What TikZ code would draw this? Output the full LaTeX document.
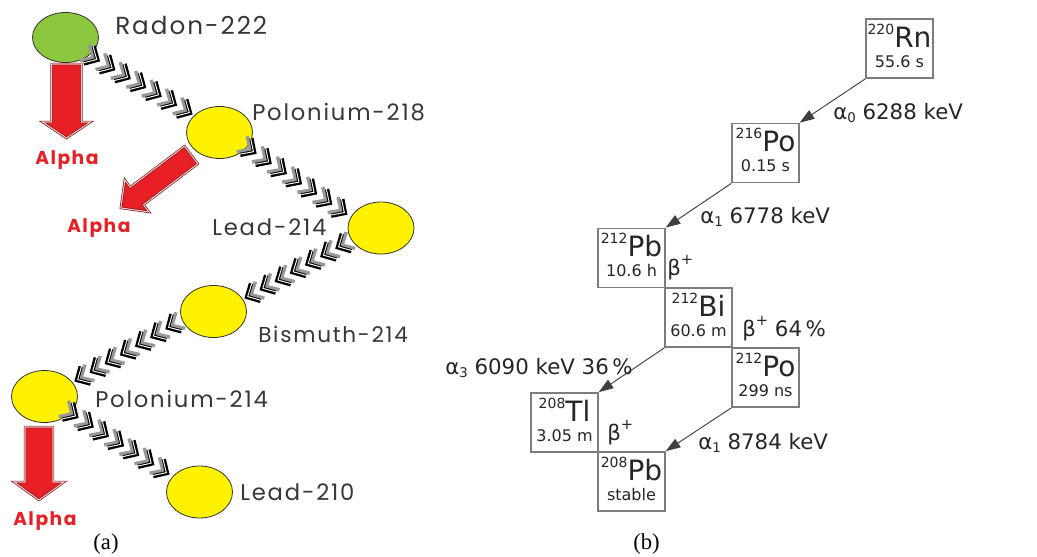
\documentclass[tikz,border=0pt]{standalone}
\usepackage{fontspec}
\setmainfont{DejaVu Sans}
\newfontfamily\geofont[LetterSpace=8]{Poppins}
\newfontfamily\capfont{Liberation Serif}
\usetikzlibrary{shapes.geometric,arrows.meta,calc}

\definecolor{leafgreen}{RGB}{141,198,63}
\definecolor{sunyellow}{RGB}{255,242,0}
\definecolor{alphared}{RGB}{232,32,38}
\definecolor{darkred}{RGB}{125,20,20}
\definecolor{boxgray}{RGB}{125,125,125}
\definecolor{labelgray}{RGB}{55,55,55}

% nuclide symbol with mass number
\newcommand\nuc[2]{\raisebox{9.5pt}{\fontsize{10.5}{11}\selectfont #1}\fontsize{21}{24}\selectfont #2}
\newcommand\lowidx[1]{\raisebox{-2.6pt}{\fontsize{10}{10}\selectfont #1}}
\newcommand\hiplus{\raisebox{8pt}{\fontsize{11}{11}\selectfont +}}

\tikzset{
  chevron/.pic={
    \draw[line width=2.6pt, draw=black!40, line join=miter] (-11pt,7pt) -- (-3.5pt,0pt) -- (-11pt,-7pt);
    \draw[line width=3.2pt, draw=black, line join=miter] (-7.5pt,7.5pt) -- (0pt,0pt) -- (-7.5pt,-7.5pt);
    \draw[line width=0.7pt, draw=white, line join=miter] (-8pt,7.2pt) -- (-0.6pt,0pt) -- (-8pt,-7.2pt);
  }
}
% a row of chevrons running from #1 to #2
\newcommand\chevronchain[2]{%
  \path let \p1=($(#2)-(#1)$), \n1={atan2(\y1,\x1)} in
    foreach \k in {1,...,7} { ($(#1)!\k/7!(#2)$) pic[rotate=\n1] {chevron} };
}
% block arrow: centre, direction angle, length, shaft half width, head half width, head length (pt)
\newcommand\blockarrow[7]{%
  \path[redarrow, shift={(#2)}, rotate=#3]
    ({-#4/2},{#5}) -- ({#4/2-#7},{#5}) -- ({#4/2-#7},{#6}) -- ({#4/2},0pt)
    -- ({#4/2-#7},{-#6}) -- ({#4/2-#7},{-#5}) -- ({-#4/2},{-#5}) -- cycle;
  \coordinate (#1) at (#2);
}

\begin{document}
\begin{tikzpicture}[x=0.75pt,y=-0.75pt,
  isotope/.style={ellipse, draw=black!80, line width=0.6pt, minimum width=49.5pt,
    minimum height=39pt, inner sep=0pt},
  namelabel/.style={anchor=base west, inner sep=0pt, text=labelgray,
    font=\geofont\fontsize{17}{19}\selectfont},
  alphalabel/.style={anchor=base west, inner sep=0pt, text=alphared,
    font=\geofont\bfseries\fontsize{14}{16}\selectfont},
  redarrow/.style={fill=alphared, draw=darkred, line width=0.5pt,
    double=white!75!alphared, double distance=0.8pt, line join=miter},
  decaybox/.style={rectangle, draw=boxgray, line width=1.1pt, minimum width=50.25pt,
    minimum height=44.5pt, inner sep=0pt},
  boxtext/.style={anchor=base, inner sep=0pt, text=black!85},
  halflife/.style={boxtext, font=\fontsize{12}{14}\selectfont},
  decayarrow/.style={draw=black!75, line width=0.7pt, -{Triangle[length=11pt,width=7.5pt]}},
  decaylabel/.style={anchor=base west, inner sep=0pt, text=black!85,
    font=\fontsize{16}{19}\selectfont},
  caption/.style={anchor=base, inner sep=0pt, font=\capfont\fontsize{17}{20}\selectfont}
]
\fill[white] (0,0) rectangle (1037,556);
\useasboundingbox (0,0) rectangle (1037,556);

% ---------------- (a) radon-222 chain ----------------
\node[isotope, fill=leafgreen, minimum height=37.5pt] (rn222) at (65.5,37.5) {};
\node[isotope, fill=sunyellow] (po218) at (219.5,132.5) {};
\node[isotope, fill=sunyellow] (pb214) at (381,228) {};
\node[isotope, fill=sunyellow] (bi214) at (213.5,311.5) {};
\node[isotope, fill=sunyellow] (po214) at (44.5,396.5) {};
\node[isotope, fill=sunyellow] (pb210) at (199.5,492) {};

\node[namelabel, font=\geofont\fontsize{18.5}{20}\selectfont] (lrn222) at (115,35) {Radon-222};
\node[namelabel] (lpo218) at (252,121) {Polonium-218};
\node[namelabel] (lpb214) at (212,235) {Lead-214};
\node[namelabel, font=\geofont\fontsize{16.2}{18}\selectfont] (lbi214) at (258,342) {Bismuth-214};
\node[namelabel] (lpo214) at (95,407) {Polonium-214};
\node[namelabel] (lpb210) at (240,500) {Lead-210};

\node[alphalabel] (al1) at (35,164) {Alpha};
\node[alphalabel] (al2) at (67,232) {Alpha};
\node[alphalabel] (al3) at (13,525) {Alpha};

% alpha emissions
\blockarrow{ar1}{66.5,101}{-90}{55.5pt}{11.25pt}{18pt}{12pt}
\blockarrow{ar2}{156,181.5}{217}{66pt}{8.25pt}{15pt}{15pt}
\blockarrow{ar3}{39,463.5}{-90}{54.75pt}{10.5pt}{18.75pt}{13.5pt}

% beta emissions
\coordinate (c1s) at (82,51);   \coordinate (c1e) at (190,113);
\coordinate (c2s) at (239,142); \coordinate (c2e) at (345,213);
\coordinate (c3s) at (353,239); \coordinate (c3e) at (247,297);
\coordinate (c4s) at (183,319); \coordinate (c4e) at (77,380);
\coordinate (c5s) at (61,407);  \coordinate (c5e) at (167,473);
\chevronchain{c1s}{c1e}
\chevronchain{c2s}{c2e}
\chevronchain{c3s}{c3e}
\chevronchain{c4s}{c4e}
\chevronchain{c5s}{c5e}

\node[caption] (capa) at (106,549) {(a)};

% ---------------- (b) thorium series from radon-220 ----------------
\node[decaybox] (rn) at (899.5,48.5) {};
\node[decaybox] (po216) at (765.5,153) {};
\node[decaybox] (pb212) at (631.5,258) {};
\node[decaybox] (bi212) at (698.5,317.5) {};
\node[decaybox] (po212) at (765.5,377.5) {};
\node[decaybox] (tl208) at (564.5,422.5) {};
\node[decaybox] (pb208) at (631.5,481.5) {};

\node[boxtext] (rnA) at ($(rn.north)+(0,29)$) {\nuc{220}{Rn}};
\node[halflife] (rnT) at ($(rn.north)+(0,49)$) {55.6 s};
\node[boxtext] (po216A) at ($(po216.north)+(0,29)$) {\nuc{216}{Po}};
\node[halflife] (po216T) at ($(po216.north)+(0,49)$) {0.15 s};
\node[boxtext] (pb212A) at ($(pb212.north)+(0,29)$) {\nuc{212}{Pb}};
\node[halflife] (pb212T) at ($(pb212.north)+(0,49)$) {10.6 h};
\node[boxtext] (bi212A) at ($(bi212.north)+(0,29)$) {\nuc{212}{Bi}};
\node[halflife] (bi212T) at ($(bi212.north)+(0,49)$) {60.6 m};
\node[boxtext] (po212A) at ($(po212.north)+(0,29)$) {\nuc{212}{Po}};
\node[halflife] (po212T) at ($(po212.north)+(0,49)$) {299 ns};
\node[boxtext] (tl208A) at ($(tl208.north)+(0,29)$) {\nuc{208}{Tl}};
\node[halflife] (tl208T) at ($(tl208.north)+(0,49)$) {3.05 m};
\node[boxtext] (pb208A) at ($(pb208.north)+(0,29)$) {\nuc{208}{Pb}};
\node[halflife] (pb208T) at ($(pb208.north)+(0,49)$) {stable};

\draw[decayarrow] (rn.south west) -- (po216.north east);
\draw[decayarrow] (po216.south west) -- (pb212.north east);
\draw[decayarrow] (bi212.south west) -- (tl208.north east);
\draw[decayarrow] (po212.south west) -- (pb208.north east);

\node[decaylabel] (la0) at (833,119.5) {α\lowidx{0} 6288 keV};
\node[decaylabel] (la1) at (700,223.3) {α\lowidx{1} 6778 keV};
\node[decaylabel] (lb1) at (667,275.5) {β\hiplus};
\node[decaylabel] (lb2) at (742,336.5) {β\hiplus\ 64\,\%};
\node[decaylabel] (la3) at (445,374) {α\lowidx{3} 6090 keV 36\,\%};
\node[decaylabel] (lb3) at (607,440.5) {β\hiplus};
\node[decaylabel] (la4) at (698,449.3) {α\lowidx{1} 8784 keV};

\node[caption] (capb) at (646.5,549) {(b)};
\end{tikzpicture}
\end{document}
